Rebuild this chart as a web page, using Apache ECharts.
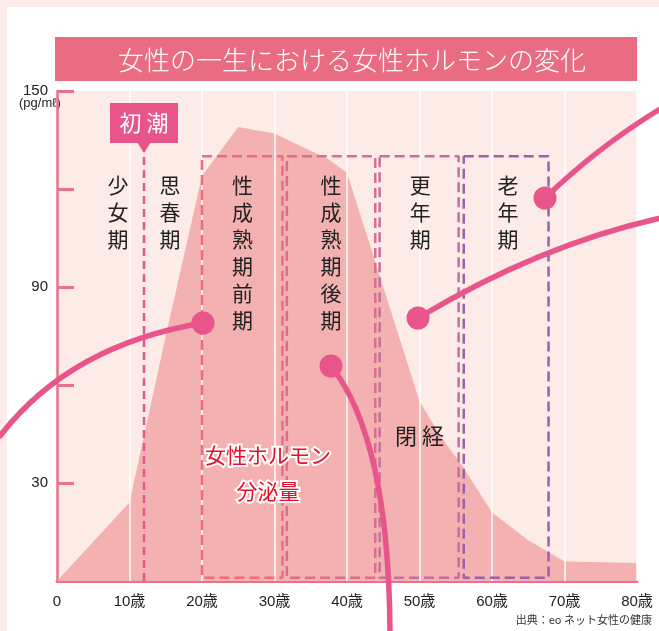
<!DOCTYPE html>
<html>
<head>
<meta charset="utf-8">
<script src="https://cdn.jsdelivr.net/npm/echarts@6/dist/echarts.min.js"></script>
<style>
  html, body { margin: 0; padding: 0; background: #fff; }
  #chart { width: 659px; height: 631px; background: #fff; box-shadow: inset 7px 7px 0 #fcebe8; }
</style>
</head>
<body>
<div id="chart"></div>
<script>
// 年齢と女性ホルモン分泌量 (pg/mℓ)
const ages = [0, 10, 15, 20, 25, 30, 37.5, 40, 45, 50, 53, 56, 60, 65, 70, 80]
const hormone = [0, 24, 75, 124, 139, 137, 129, 125, 90, 55, 44, 35, 21, 12.5, 6, 5.5]

// x軸の目盛り
const xTicks = [0, 10, 20, 30, 40, 50, 60, 70, 80]
const yLabelValues = [30, 90, 150]

// 初潮
const menarcheAge = 12
const menarcheTop = 132

// ライフステージ（点線の枠）
const stageStart = [20, 31.7, 44.5, 56.1]
const stageEnd = [31.1, 43.9, 55.4, 67.8]
const stageColors = ['#ee6c7c', '#d96f8e', '#c66f9f', '#9a62a8']
const stageTop = 130
const stageBottom = 1

// 縦書きラベル
const periodLabels = ['少女期', '思春期', '性成熟期前期', '性成熟期後期', '更年期', '老年期']
const periodAges = [8.4, 15.6, 25.6, 37.8, 50.1, 62.2]

const pink = '#e9718a'
const accent = '#e8558a'
const jp = '"Noto Sans CJK JP", sans-serif'
const num = '"Liberation Sans", "Noto Sans CJK JP", sans-serif'

const chart = echarts.init(document.getElementById('chart'))

// 枠は閉じた折れ線で描く
const stageSeries = stageStart.map((s, i) => {
  const e = stageEnd[i]
  return {
    type: 'line',
    data: [[s, stageTop], [e, stageTop], [e, stageBottom], [s, stageBottom], [s, stageTop]],
    symbol: 'none',
    silent: true,
    lineStyle: { color: stageColors[i], width: 2.5, type: [10, 5] },
    z: 5
  }
})

const option = {
  animation: false,
  grid: {
    left: 57, right: 22, top: 91, bottom: 50,
    show: true, backgroundColor: '#fcebe7', borderWidth: 0
  },
  xAxis: {
    type: 'value', min: 0, max: 80, interval: 10,
    axisLine: { lineStyle: { color: pink, width: 3 } },
    axisTick: { show: false },
    splitLine: { show: false },
    axisLabel: {
      margin: 13, fontSize: 15, color: '#222', fontFamily: num,
      formatter: (v) => (v === 0 ? '0' : v + '歳')
    }
  },
  yAxis: {
    type: 'value', min: 0, max: 150, interval: 30,
    axisLine: { show: true, lineStyle: { color: pink, width: 2.5 } },
    axisTick: { show: true, inside: true, length: 17, lineStyle: { color: pink, width: 3 } },
    splitLine: { show: false },
    axisLabel: {
      margin: 9, fontSize: 15, color: '#222', fontFamily: num,
      formatter: (v) => (yLabelValues.includes(v) ? String(v) : '')
    }
  },
  series: [
    {
      type: 'line',
      data: ages.map((a, i) => [a, hormone[i]]),
      symbol: 'none',
      lineStyle: { width: 0 },
      areaStyle: { color: '#f3b1b1', opacity: 1 },
      z: 2,
      markLine: {
        silent: true,
        symbol: ['none', 'none'],
        label: { show: false },
        lineStyle: { color: '#ffffff', width: 1.5, type: 'solid' },
        data: xTicks.filter(t => t > 0).map(t => ({ xAxis: t }))
      }
    },
    {
      type: 'line',
      data: [[menarcheAge, 0], [menarcheAge, menarcheTop]],
      symbol: 'none',
      silent: true,
      lineStyle: { color: accent, width: 2.5, type: [8, 5] },
      z: 4
    },
    ...stageSeries
  ]
}

chart.setOption(option)

const px = (a, v) => chart.convertToPixel({ gridIndex: 0 }, [a, v])

const graphics = []

// タイトル帯
graphics.push({
  type: 'rect', shape: { x: 55, y: 37, width: 582, height: 44 },
  style: { fill: '#ea6c83' }
})
graphics.push({
  type: 'text',
  style: {
    text: '女性の一生における女性ホルモンの変化', x: 352, y: 60,
    align: 'center', verticalAlign: 'middle',
    fontSize: 26, fontFamily: jp, fontWeight: 300, fill: '#fff'
  }
})

// 単位
graphics.push({
  type: 'text',
  style: { text: '(pg/mℓ)', x: 19, y: 97, fontSize: 13, fontFamily: num, fill: '#222' }
})

// 縦書きラベル
periodLabels.forEach((t, i) => {
  const p = px(periodAges[i], 0)
  graphics.push({
    type: 'text', z: 10,
    style: {
      text: t.split('').join('\n'), x: p[0], y: 172,
      align: 'center', verticalAlign: 'top', lineHeight: 27,
      fontSize: 21, fontFamily: jp, fill: '#222'
    }
  })
})

// 閉経
graphics.push({
  type: 'text', z: 10,
  style: {
    text: '閉 経', x: px(50, 0)[0], y: 436, align: 'center', verticalAlign: 'middle',
    fontSize: 22, fontFamily: jp, fill: '#222'
  }
})

// 女性ホルモン分泌量
graphics.push({
  type: 'text', z: 10,
  style: {
    text: '女性ホルモン\n分泌量', x: 268, y: 473, align: 'center', verticalAlign: 'middle',
    lineHeight: 36, fontSize: 21, fontFamily: jp, fontWeight: 'normal',
    fill: '#e60f2a', stroke: '#fff', lineWidth: 4
  }
})

// 初潮の吹き出し
const mx = px(menarcheAge, 0)[0]
graphics.push({
  type: 'rect', z: 10, shape: { x: mx - 34, y: 103, width: 68, height: 40 },
  style: { fill: accent }
})
graphics.push({
  type: 'polygon', z: 10, shape: { points: [[mx - 7, 142], [mx + 7, 142], [mx, 153]] },
  style: { fill: accent }
})
graphics.push({
  type: 'text', z: 11,
  style: {
    text: '初 潮', x: mx, y: 123, align: 'center', verticalAlign: 'middle',
    fontSize: 22, fontFamily: jp, fill: '#fff'
  }
})

// 装飾の曲線と丸
const arcs = [
  { x1: 0, y1: 436, cpx1: 70, cpy1: 345, x2: 203, y2: 323 },
  { x1: 331, y1: 366, cpx1: 390, cpy1: 440, x2: 390, y2: 640 },
  { x1: 418, y1: 318, cpx1: 541, cpy1: 244, x2: 665, y2: 217 },
  { x1: 545, y1: 198, cpx1: 600, cpy1: 145, x2: 665, y2: 106 }
]
arcs.forEach(s => {
  graphics.push({
    type: 'bezierCurve', z: 20, shape: s,
    style: { stroke: accent, lineWidth: 5.5, fill: null, lineCap: 'round' }
  })
  graphics.push({
    type: 'circle', z: 21, shape: { cx: s.x1 === 0 ? s.x2 : s.x1, cy: s.x1 === 0 ? s.y2 : s.y1, r: 11.5 },
    style: { fill: accent }
  })
})

// 出典
graphics.push({
  type: 'text',
  style: {
    text: '出典：eo ネット女性の健康', x: 652, y: 620, align: 'right', verticalAlign: 'middle',
    fontSize: 11, fontFamily: jp, fill: '#333'
  }
})

chart.setOption({ graphic: graphics })
</script>
</body>
</html>
